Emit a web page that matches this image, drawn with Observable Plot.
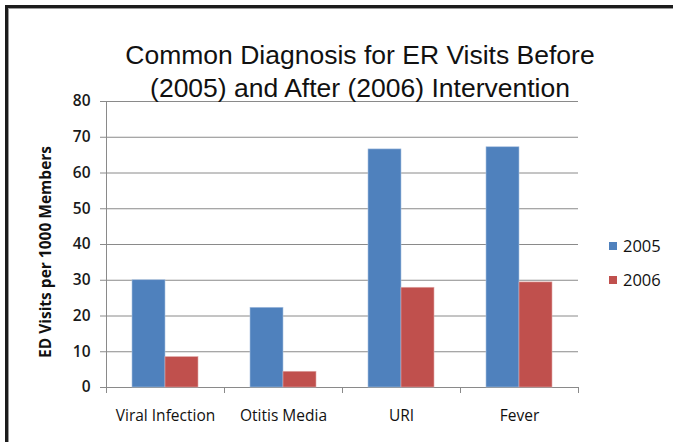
<!DOCTYPE html>
<html><head><meta charset="utf-8">
<script src="https://cdn.jsdelivr.net/npm/d3@7"></script>
<script src="https://cdn.jsdelivr.net/npm/@observablehq/plot@0.6"></script>
<style>
body{margin:0;background:#fff;}
#wrap{position:relative;width:673px;height:442px;overflow:hidden;background:#fff;}
#wrap svg{position:absolute;left:0;top:0;}
.border{position:absolute;left:5px;top:5px;width:800px;height:600px;border-left:3px solid #1c1c1c;border-top:3px solid #1c1c1c;box-shadow:inset 1px 1px 0 #9a9a9a;}
.title{position:absolute;left:60px;width:600px;text-align:center;font-family:"Liberation Sans",Arial,sans-serif;font-size:26.5px;line-height:33px;color:#111;top:39px;}
.ylab{position:absolute;left:45px;top:252px;transform:translate(-50%,-50%) rotate(-90deg);font-family:"Open Sans",sans-serif;font-weight:700;font-size:15.5px;color:#111;white-space:nowrap;}
.leg{position:absolute;left:609px;font-family:"Open Sans",sans-serif;font-size:16.5px;color:#111;display:flex;align-items:center;}
.leg span.sw{display:inline-block;width:8px;height:8px;margin-right:6px;}
</style></head><body><div id="wrap"></div>
<script>
const categories = ["Viral Infection", "Otitis Media", "URI", "Fever"];
const years = ["2005", "2006"];
const values2005 = [30.0, 22.3, 66.6, 67.2];
const values2006 = [8.5, 4.4, 27.9, 29.4];
const yTicks = [0, 10, 20, 30, 40, 50, 60, 70, 80];
const colors = ["#4F81BD", "#C0504D"];
const titleLines = ["Common Diagnosis for ER Visits Before", "(2005) and After (2006) Intervention"];
const yLabel = "ED Visits per 1000 Members";

const data2005 = categories.map((c, i) => ({category: c, year: years[0], value: values2005[i]}));
const data2006 = categories.map((c, i) => ({category: c, year: years[1], value: values2006[i]}));

const wrap = document.getElementById("wrap");
const border = document.createElement("div"); border.className = "border"; wrap.appendChild(border);

const plot = Plot.plot({
  width: 673, height: 442,
  marginLeft: 106, marginRight: 95, marginTop: 101, marginBottom: 55,
  style: {fontFamily: "'Open Sans', sans-serif", fontSize: "14px", color: "#111", background: "transparent"},
  x: {domain: categories, padding: 0, label: null},
  y: {domain: [0, 80], label: null},
  color: {domain: years, range: colors},
  marks: [
    Plot.gridY(yTicks, {stroke: "#8a8a8a", strokeOpacity: 1}),
    Plot.axisY(yTicks, {tickSize: 6, tickPadding: 10, stroke: "#8a8a8a", fontSize: 15.5, fontWeight: 600, fill: "#1a1a1a", label: null}),
    Plot.ruleX([categories[0]], {dx: -59, y1: 0, y2: 80, stroke: "#8a8a8a"}),
    Plot.axisX({tickSize: 6, text: null, dx: -59, stroke: "#8a8a8a", label: null}),
    Plot.axisX([categories[categories.length - 1]], {tickSize: 6, text: null, dx: 59, stroke: "#8a8a8a", label: null}),
    Plot.axisX({tickSize: 0, tickPadding: 22, fontSize: 15.5, fontWeight: 500, fill: "#111", label: null}),
    Plot.barY(data2005, {x: "category", y: "value", fill: "year", insetLeft: 26, insetRight: 59, stroke: "#a9c1e0", strokeWidth: 0.6}),
    Plot.barY(data2006, {x: "category", y: "value", fill: "year", insetLeft: 59, insetRight: 26, stroke: "#e0a9a8", strokeWidth: 0.6})
  ]
});
wrap.appendChild(plot);

const t = document.createElement("div"); t.className = "title";
t.innerHTML = titleLines.map(s => `<div>${s}</div>`).join("");
wrap.appendChild(t);

const yl = document.createElement("div"); yl.className = "ylab"; yl.textContent = yLabel; wrap.appendChild(yl);

const legTops = [234, 268];
years.forEach((y, i) => {
  const d = document.createElement("div"); d.className = "leg"; d.style.top = legTops[i] + "px";
  d.innerHTML = `<span class="sw" style="background:${colors[i]}"></span>${y}`;
  wrap.appendChild(d);
});
</script></body></html>
